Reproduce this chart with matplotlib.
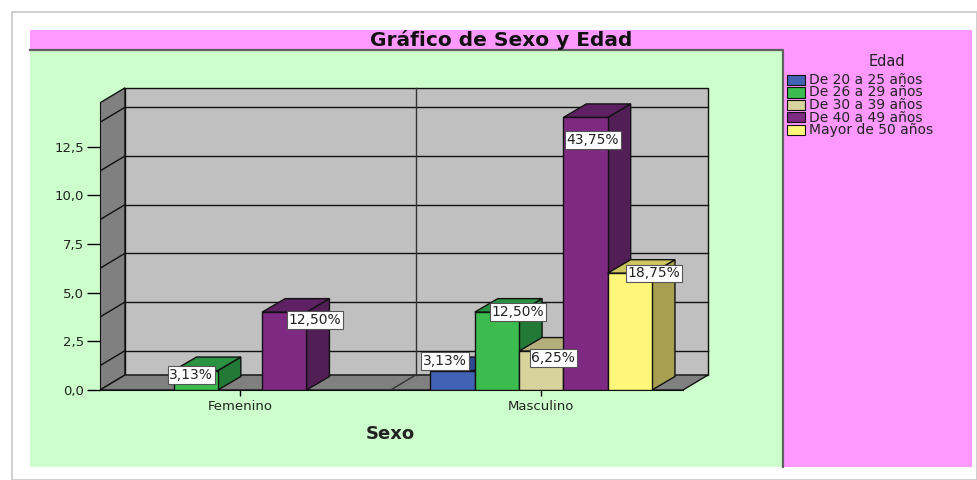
import matplotlib
matplotlib.use("Agg")
import matplotlib.pyplot as plt
from matplotlib.patches import Polygon, Rectangle
import numpy as np

# -------- Data --------
sexes = ["Femenino", "Masculino"]
age_groups = ["De 20 a 25 años", "De 26 a 29 años", "De 30 a 39 años",
              "De 40 a 49 años", "Mayor de 50 años"]
counts_femenino = [0, 1, 0, 4, 0]
counts_masculino = [1, 4, 2, 14, 6]
y_ticks = [0, 2.5, 5.0, 7.5, 10.0, 12.5]

# -------- Style --------
front_colors = ["#4262B6", "#3CBB4E", "#D8D29C", "#7E2A82", "#FFF77A"]
top_colors = ["#2E4A92", "#2A9240", "#B4AE7C", "#5E2264", "#CFC660"]
side_colors = ["#26407E", "#227A36", "#9C9670", "#521E56", "#A8A050"]
# label nudges (x in bar widths, y in counts), keyed by (sex, age group)
label_nudge = {(0, 1): (-0.10, -0.23), (0, 3): (0.69, -0.40),
               (1, 0): (-0.17, 0.49), (1, 1): (0.48, 0.0), (1, 2): (0.27, -0.36),
               (1, 3): (0.17, -1.16), (1, 4): (0.55, 0.0)}

W, H = 977, 480
AX_L, AX_R, AX_T, AX_B = 100, 712, 85, 390   # axes box in pixels
PX_X, PX_Y = 44.3, 19.47                     # pixels per bar width / per count
group_pos = [0.0, 6.8]
x0, xf = -3.16, 10.0                          # floor front edge
DX, DY = 25 / PX_X, 15 / PX_Y                 # depth of floor / walls
BDX, BDY = 23 / PX_X, 13.5 / PX_Y             # depth of bars
WALL_H = 14.75
grid_levels = np.arange(1.25, WALL_H, 2.5)

fig = plt.figure(figsize=(W / 100, H / 100), dpi=100)
fig.patch.set_facecolor("white")

def fx(px):
    return px / W

def fy(py):
    return 1 - py / H

# outer frame with a faint shadow
fig.patches.append(Rectangle((fx(12), fy(480)), fx(977) - fx(12), fy(12) - fy(480),
                             transform=fig.transFigure, fc="white", ec="#c8c8c8", lw=1.2, zorder=0))
# pink title / legend panel
fig.patches.append(Rectangle((fx(30), fy(467)), fx(972) - fx(30), fy(30) - fy(467),
                             transform=fig.transFigure, fc="#FF99FF", ec="none", zorder=0.5))
# green plot panel
fig.patches.append(Rectangle((fx(30), fy(467)), fx(783) - fx(30), fy(50) - fy(467),
                             transform=fig.transFigure, fc="#CCFFCC", ec="none", zorder=0.6))
fig.lines.append(plt.Line2D([fx(30), fx(783), fx(783)], [fy(50), fy(50), fy(467)],
                            transform=fig.transFigure, color="#606060", lw=1.6, zorder=0.7))

fig.text(fx(501), fy(40), "Gráfico de Sexo y Edad", ha="center", va="center",
         fontsize=14.5, fontweight="bold", color="#111111")

ax = fig.add_axes([fx(AX_L), fy(AX_B), fx(AX_R) - fx(AX_L), fy(AX_T) - fy(AX_B)])
ax.set_zorder(2)
ax.set_facecolor("none")
ax.set_xlim(x0, x0 + (AX_R - AX_L) / PX_X)
ax.set_ylim(0, (AX_B - AX_T) / PX_Y)

edge = "#111111"
# left wall, back wall, floor
ax.add_patch(Polygon([(x0, 0), (x0 + DX, DY), (x0 + DX, WALL_H + DY), (x0, WALL_H)],
                     fc="#808080", ec=edge, lw=1, zorder=1))
ax.add_patch(Rectangle((x0 + DX, DY), xf - x0, WALL_H, fc="#C0C0C0", ec=edge, lw=1, zorder=1))
ax.add_patch(Polygon([(x0, 0), (xf, 0), (xf + DX, DY), (x0 + DX, DY)],
                     fc="#808080", ec=edge, lw=1, zorder=1))
for g in grid_levels:
    ax.plot([x0 + DX, xf + DX], [g + DY, g + DY], color=edge, lw=1, zorder=2)
    ax.plot([x0, x0 + DX], [g, g + DY], color=edge, lw=1, zorder=2)
xd = (group_pos[0] + group_pos[1]) / 2
ax.plot([xd + DX, xd + DX], [DY, WALL_H + DY], color="#333333", lw=1, zorder=2)
ax.plot([xd, xd + DX], [0, DY], color="#333333", lw=1, zorder=2)

# -------- Bars --------
total = sum(counts_femenino) + sum(counts_masculino)
z = 3
for gi, counts in enumerate([counts_femenino, counts_masculino]):
    for k, c in enumerate(counts):
        if c == 0:
            continue
        xc = group_pos[gi] + (k - 2)
        xl, xr = xc - 0.5, xc + 0.5
        ax.add_patch(Polygon([(xr, 0), (xr + BDX, BDY), (xr + BDX, c + BDY), (xr, c)],
                             fc=side_colors[k], ec=edge, lw=1, zorder=z))
        ax.add_patch(Polygon([(xl, c), (xr, c), (xr + BDX, c + BDY), (xl + BDX, c + BDY)],
                             fc=top_colors[k], ec=edge, lw=1, zorder=z))
        ax.add_patch(Rectangle((xl, 0), 1, c, fc=front_colors[k], ec=edge, lw=1, zorder=z + 0.1))
        z += 0.2
        pct = c / total * 100
        ndx, ndy = label_nudge.get((gi, k), (0, 0))
        ax.text(xc + ndx, c + ndy, f"{pct + 1e-9:.2f}%".replace(".", ","),
                ha="center", va="center", fontsize=10, color="#222222", zorder=20,
                bbox=dict(boxstyle="square,pad=0.12", fc="white", ec="#555555", lw=0.8))

# -------- Axes --------
for s in ["top", "right"]:
    ax.spines[s].set_visible(False)
ax.spines["left"].set_bounds(0, WALL_H)
ax.spines["bottom"].set_bounds(x0, xf)
ax.spines["left"].set_color(edge)
ax.spines["bottom"].set_color(edge)
ax.set_yticks(y_ticks)
ax.set_yticklabels([f"{v:.1f}".replace(".", ",") for v in y_ticks])
ax.set_xticks(group_pos)
ax.set_xticklabels(sexes)
ax.tick_params(axis="y", length=9.5, width=1, labelsize=9.5, pad=2, labelcolor="#222222")
ax.tick_params(axis="x", length=4, width=1, labelsize=9.5, pad=3, labelcolor="#222222")
ax.set_xlabel("Sexo", fontsize=13, fontweight="bold", color="#222222")
ax.xaxis.set_label_coords((390 - AX_L) / (AX_R - AX_L), -(425 - AX_B) / (AX_B - AX_T))

# -------- Legend --------
fig.text(fx(887), fy(62), "Edad", ha="center", va="center", fontsize=10.5, color="#222222")
for i, (lab, col) in enumerate(zip(age_groups, front_colors)):
    yc = 80 + i * 12.5
    fig.patches.append(Rectangle((fx(787), fy(yc + 5)), fx(18), fy(0) - fy(10),
                                 transform=fig.transFigure, fc=col, ec=edge, lw=0.8, zorder=3))
    fig.text(fx(809), fy(yc), lab, ha="left", va="center", fontsize=10, color="#222222")

fig.savefig("out.png", dpi=100)
